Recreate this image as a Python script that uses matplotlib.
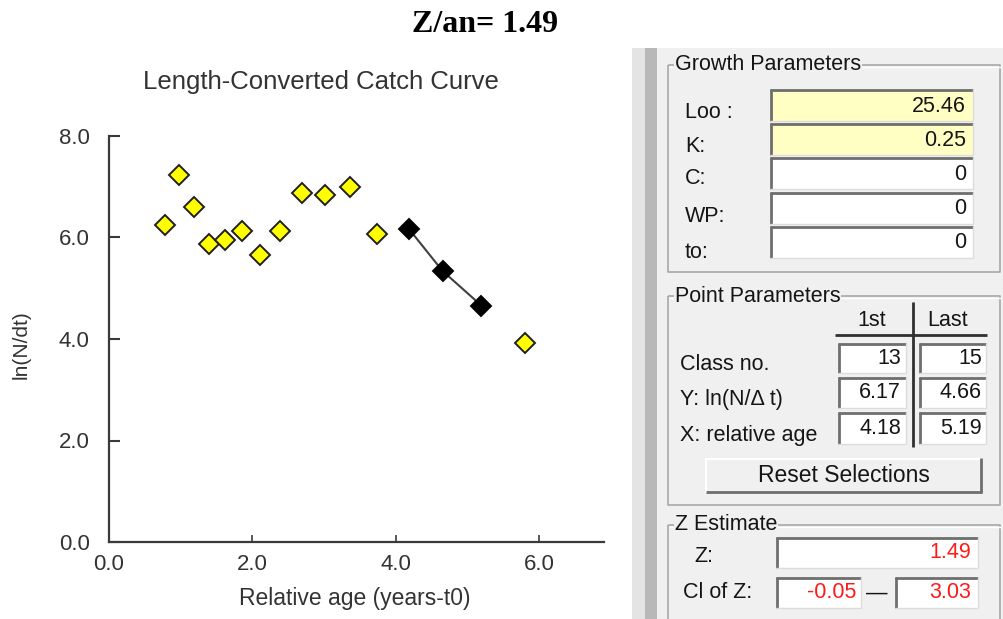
import matplotlib
matplotlib.use("Agg")
import matplotlib.pyplot as plt
from matplotlib.patches import Rectangle
from matplotlib.lines import Line2D

# ---------------- data ----------------
rel_age = [0.78, 0.98, 1.18, 1.39, 1.62, 1.85, 2.11, 2.39, 2.69, 3.01, 3.36, 3.74, 4.18, 4.65, 5.19, 5.80]
ln_n_dt = [6.25, 7.24, 6.60, 5.88, 5.96, 6.13, 5.65, 6.13, 6.88, 6.84, 6.99, 6.06, 6.17, 5.34, 4.66, 3.92]
selected = [12, 13, 14]
x_ticks = [0.0, 2.0, 4.0, 6.0]
y_ticks = [0.0, 2.0, 4.0, 6.0, 8.0]

growth_labels = ["Loo :", "K:", "C:", "WP:", "to:"]
growth_values = ["25.46", "0.25", "0", "0", "0"]
point_labels = ["Class no.", "Y: ln(N/\u0394 t)", "X: relative age"]
point_first = ["13", "6.17", "4.18"]
point_last = ["15", "4.66", "5.19"]
z_value = "1.49"
ci_low, ci_high = "-0.05", "3.03"

W, H = 1004, 619
plt.rcParams['font.family'] = ['Liberation Sans', 'DejaVu Sans']
fig = plt.figure(figsize=(W / 100, H / 100), dpi=100)
fig.patch.set_facecolor("white")

# overlay in pixel coordinates
bg = fig.add_axes([0, 0, 1, 1], zorder=0)
bg.set_xlim(0, W)
bg.set_ylim(H, 0)
bg.axis("off")
bg.patch.set_alpha(0)

TXT = "#151515"
PFS = 15.5


def rect(x0, y0, x1, y1, fc, ec="none", lw=0, z=1):
    bg.add_patch(Rectangle((x0, y0), x1 - x0, y1 - y0, facecolor=fc, edgecolor=ec, lw=lw, zorder=z))


def line(xs, ys, c, lw, z=3):
    bg.add_line(Line2D(xs, ys, color=c, lw=lw, zorder=z, solid_capstyle="butt"))


def sunken(x0, y0, x1, y1, fc="white"):
    rect(x0, y0, x1, y1, fc, z=2)
    line([x0, x1], [y0 + 1, y0 + 1], "#6e6e6e", 2)
    line([x0 + 1, x0 + 1], [y0, y1], "#6e6e6e", 2)
    line([x0, x1], [y1, y1], "#dcdcdc", 1)
    line([x1, x1], [y0, y1], "#dcdcdc", 1)


def groupbox(x0, y0, x1, y1, title):
    line([x0, x1, x1, x0, x0], [y0, y0, y1, y1, y0], "#a8a8a8", 1.2)
    line([x0 + 1.5, x1 + 1.5], [y0 + 1.5, y0 + 1.5], "white", 1)
    bg.text(x0 + 7, y0, title, fontsize=PFS, color=TXT, ha="left", va="center", zorder=5,
            bbox=dict(facecolor="#f0f0f0", edgecolor="none", pad=0.5))


# panel background
rect(632, 48, 645, H, "#e4e4e4")
rect(645, 48, 657, H, "#b8b8b8")
rect(657, 48, W, H, "#f0f0f0")

# Growth parameters
groupbox(668, 65, 1000, 272, "Growth Parameters")
rows_y = [(89, 121), (123, 155), (157, 189), (192, 224), (226, 258)]
label_y = [113, 146, 179, 216, 252]
for i, (lab, val) in enumerate(zip(growth_labels, growth_values)):
    y0, y1 = rows_y[i]
    sunken(770, y0, 973, y1, "#ffffc4" if i < 2 else "white")
    bg.text(966, (y0 + y1) / 2 + 1, val, fontsize=PFS, color=TXT, ha="right", va="center", zorder=5)
    bg.text(685, label_y[i], lab, fontsize=PFS, color=TXT, ha="left", va="center", zorder=5)

# Point parameters
groupbox(668, 296, 1000, 505, "Point Parameters")
bg.text(872, 320, "1st", fontsize=PFS, color=TXT, ha="center", va="center", zorder=5)
bg.text(948, 320, "Last", fontsize=PFS, color=TXT, ha="center", va="center", zorder=5)
line([835, 987], [335, 335], "#303030", 2)
line([913, 913], [302, 447], "#303030", 2)
prow = [(343, 373), (377, 408), (412, 444)]
plab_y = [365, 400, 435]
for i in range(3):
    y0, y1 = prow[i]
    sunken(838, y0, 906, y1)
    sunken(919, y0, 986, y1)
    bg.text(901, (y0 + y1) / 2, point_first[i], fontsize=PFS, color=TXT, ha="right", va="center", zorder=5)
    bg.text(982, (y0 + y1) / 2, point_last[i], fontsize=PFS, color=TXT, ha="right", va="center", zorder=5)
    bg.text(680, plab_y[i], point_labels[i], fontsize=PFS, color=TXT, ha="left", va="center", zorder=5)

# Reset button (raised)
rect(706, 458, 982, 493, "#f0f0f0", z=2)
line([706, 982], [458.5, 458.5], "white", 1.5)
line([706.5, 706.5], [458, 493], "white", 1.5)
line([706, 982], [492, 492], "#6e6e6e", 2)
line([981, 981], [458, 493], "#6e6e6e", 2)
bg.text(844, 475, "Reset Selections", fontsize=16.5, color=TXT, ha="center", va="center", zorder=5)

# Z estimate
groupbox(668, 525, 1000, 640, "Z Estimate")
sunken(776, 537, 978, 568)
bg.text(971, 553, z_value, fontsize=PFS, color="#ff1a1a", ha="right", va="center", zorder=5)
bg.text(694, 556, "Z:", fontsize=PFS, color=TXT, ha="left", va="center", zorder=5)
sunken(776, 577, 861, 608)
sunken(895, 577, 978, 608)
bg.text(856, 593, ci_low, fontsize=PFS, color="#ff1a1a", ha="right", va="center", zorder=5)
bg.text(971, 593, ci_high, fontsize=PFS, color="#ff1a1a", ha="right", va="center", zorder=5)
bg.text(877, 593, "\u2014", fontsize=PFS, color=TXT, ha="center", va="center", zorder=5)
bg.text(683, 592, "Cl of Z:", fontsize=PFS, color=TXT, ha="left", va="center", zorder=5)

# main title
fig.text(485 / W, 1 - 25 / H, "Z/an= 1.49", fontsize=23, fontweight="bold",
         family=["Liberation Serif", "DejaVu Serif"], ha="center", va="center", color="black")

# ---------------- chart ----------------
ax_l, ax_r, ax_b, ax_t = 109, 604, 542, 136
ax = fig.add_axes([ax_l / W, 1 - ax_b / H, (ax_r - ax_l) / W, (ax_b - ax_t) / H], zorder=2)
ax.patch.set_alpha(0)
ax.set_xlim(0, 6.9)
ax.set_ylim(0, 8)
for s in ["top", "right"]:
    ax.spines[s].set_visible(False)
for s in ["left", "bottom"]:
    ax.spines[s].set_color("#3a3a3a")
    ax.spines[s].set_linewidth(1.6)
ax.set_xticks(x_ticks)
ax.set_yticks(y_ticks)
ax.set_xticklabels([f"{v:.1f}" for v in x_ticks])
ax.set_yticklabels([f"{v:.1f}" for v in y_ticks])
ax.tick_params(axis="y", direction="in", length=8, width=1.5, color="#3a3a3a",
               labelsize=16, labelcolor="#333333", pad=14)
ax.tick_params(axis="x", direction="in", length=5, width=1.2, color="#3a3a3a",
               labelsize=16, labelcolor="#333333", pad=9)

sel_x = [rel_age[i] for i in selected]
sel_y = [ln_n_dt[i] for i in selected]
oth_x = [rel_age[i] for i in range(len(rel_age)) if i not in selected]
oth_y = [ln_n_dt[i] for i in range(len(rel_age)) if i not in selected]

ax.plot(sel_x, sel_y, color="#404040", lw=1.5, zorder=3)
ax.plot(oth_x, oth_y, ls="none", marker="D", ms=10, mfc="#ffff00", mec="#202020", mew=1.4, zorder=4)
ax.plot(sel_x, sel_y, ls="none", marker="D", ms=10, mfc="black", mec="black", mew=1.4, zorder=4)

fig.text(355 / W, 1 - 598 / H, "Relative age (years-t0)", fontsize=16.5, color="#333333",
         ha="center", va="center")
fig.text(21 / W, 1 - 345 / H, "ln(N/dt)", fontsize=15, color="#333333",
         ha="center", va="center", rotation=90)
fig.text(321 / W, 1 - 82 / H, "Length-Converted Catch Curve", fontsize=18.5, color="#333333",
         ha="center", va="center")

fig.savefig("out.png", dpi=100, facecolor="white")
